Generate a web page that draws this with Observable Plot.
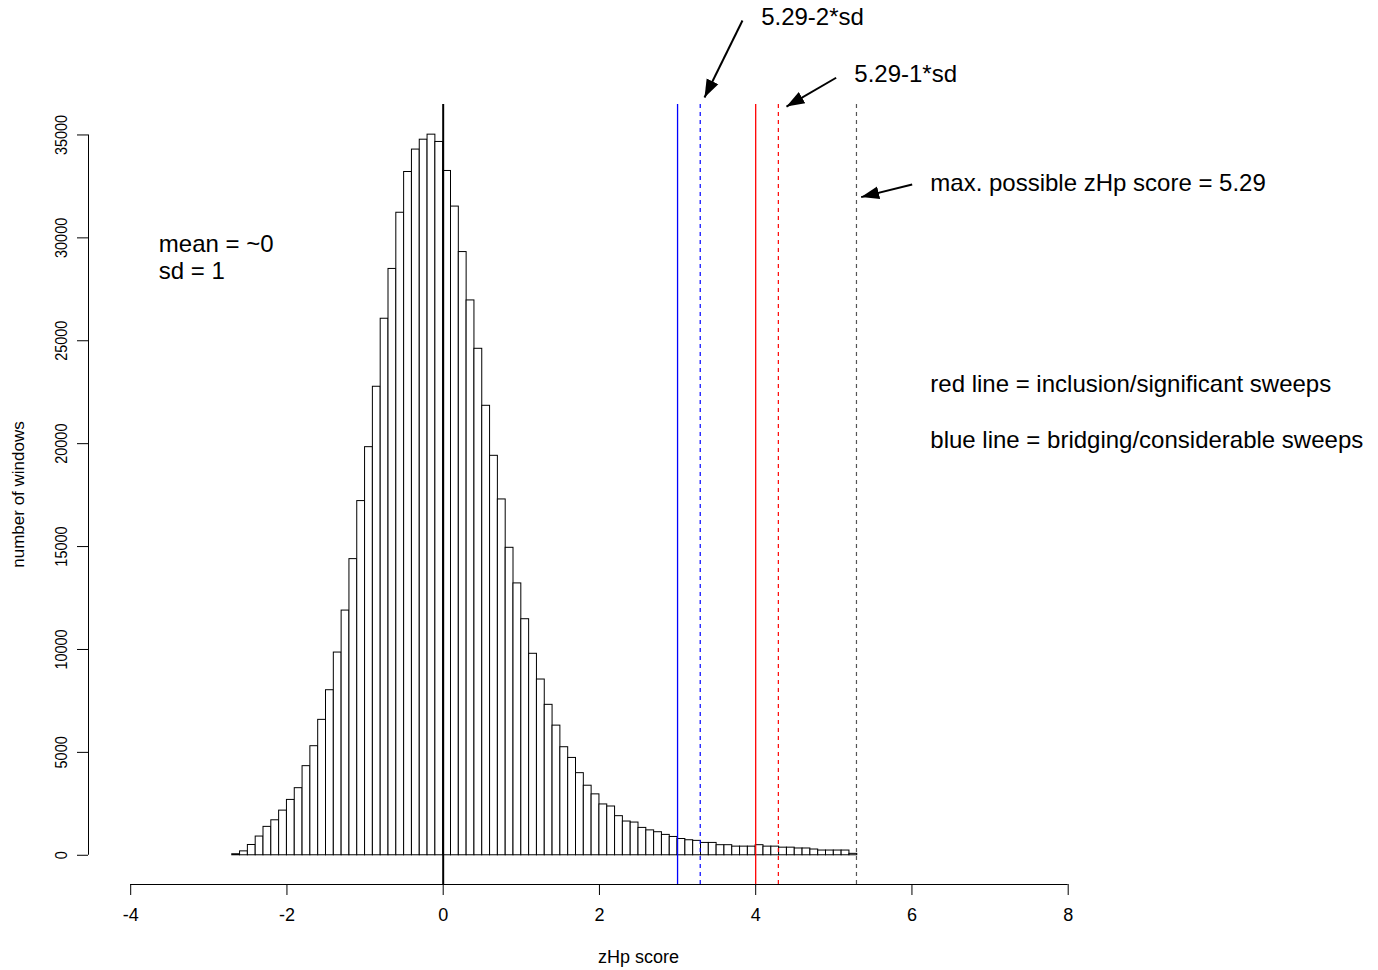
<!DOCTYPE html>
<html><head><meta charset="utf-8">
<script src="https://cdn.jsdelivr.net/npm/d3@7"></script>
<script src="https://cdn.jsdelivr.net/npm/@observablehq/plot@0.6"></script>
<style>body{margin:0;background:#fff;} svg{display:block}</style>
</head><body><div id="chart"></div>
<script>
// Histogram bins (left edges, bin width 0.1) and counts
const binStart = [-2.7,-2.6,-2.5,-2.4,-2.3,-2.2,-2.1,-2.0,-1.9,-1.8,-1.7,-1.6,-1.5,-1.4,-1.3,-1.2,-1.1,-1.0,-0.9,-0.8,
  -0.7,-0.6,-0.5,-0.4,-0.3,-0.2,-0.1,0.0,0.1,0.2,0.3,0.4,0.5,0.6,0.7,0.8,0.9,1.0,1.1,1.2,
  1.3,1.4,1.5,1.6,1.7,1.8,1.9,2.0,2.1,2.2,2.3,2.4,2.5,2.6,2.7,2.8,2.9,3.0,3.1,3.2,
  3.3,3.4,3.5,3.6,3.7,3.8,3.9,4.0,4.1,4.2,4.3,4.4,4.5,4.6,4.7,4.8,4.9,5.0,5.1,5.2];
const binWidth = 0.1;
const counts = [50,190,500,910,1380,1700,2170,2690,3260,4330,5300,6580,8020,9850,11890,14390,17210,19830,22765,26070,
  28490,31220,33200,34290,34770,35015,34660,33250,31520,29310,26960,24610,21840,19410,17290,14940,13210,11470,9790,8540,
  7310,6300,5250,4730,3990,3380,2960,2470,2370,1900,1640,1590,1330,1210,1120,990,890,790,730,700,
  600,600,490,490,420,420,420,490,420,420,370,370,330,330,280,230,230,230,230,70];

// Axis ticks
const xTicks = [-4,-2,0,2,4,6,8];
const yTicks = [0,5000,10000,15000,20000,25000,30000,35000];
const xDomain = [-4.54, 9.54];
const yDomain = [-1420, 36480];

// Reference lines: mean, blue solid, blue dashed (5.29-2*sd), red solid, red dashed (5.29-1*sd), max
const refLineValues = [0, 3, 3.29, 4, 4.29, 5.29];

// Annotations (data coordinates)
const annoText = ["5.29-2*sd", "5.29-1*sd", "max. possible zHp score = 5.29", "mean = ~0\nsd = 1",
  "red line = inclusion/significant sweeps", "blue line = bridging/considerable sweeps"];
const annoX = [4.07, 5.262, 6.235, -3.64, 6.235, 6.235];
const annoY = [40760, 38000, 32700, 29071, 22930, 20220];

// Arrows (data coordinates)
const arrowX1 = [3.831, 5.030, 6.003];
const arrowY1 = [40560, 37780, 32590];
const arrowX2 = [3.345, 4.394, 5.350];
const arrowY2 = [36820, 36380, 31980];

const bars = binStart.map((s, i) => ({x1: s, x2: s + binWidth, y: counts[i]}));
const annos = annoText.map((t, i) => ({t, x: annoX[i], y: annoY[i]}));
const arrows = arrowX1.map((x1, i) => ({x1, y1: arrowY1[i], x2: arrowX2[i], y2: arrowY2[i]}));

function filledArrow(color, context) {
  const doc = (context && context.document) || document;
  const ns = "http://www.w3.org/2000/svg";
  const m = doc.createElementNS(ns, "marker");
  m.setAttribute("viewBox", "0 -5 10 10");
  m.setAttribute("refX", "10");
  m.setAttribute("refY", "0");
  m.setAttribute("markerWidth", "18");
  m.setAttribute("markerHeight", "18");
  m.setAttribute("markerUnits", "userSpaceOnUse");
  m.setAttribute("orient", "auto");
  const p = doc.createElementNS(ns, "path");
  p.setAttribute("d", "M0,-3.6L10,0L0,3.6Z");
  p.setAttribute("fill", "black");
  p.setAttribute("stroke", "none");
  m.appendChild(p);
  return m;
}

const fmt = d => String(d);

const chart = Plot.plot({
  width: 1378, height: 970,
  marginLeft: 88, marginRight: 190, marginTop: 104, marginBottom: 86,
  style: {fontFamily: "'Liberation Sans', Arial, sans-serif", background: "white", overflow: "visible", color: "black"},
  x: {domain: xDomain},
  y: {domain: yDomain},
  marks: [
    Plot.rectY(bars, {x1: "x1", x2: "x2", y1: 0, y2: "y", fill: "white", stroke: "black", strokeWidth: 1, inset: 0}),
    Plot.ruleX([refLineValues[1]], {stroke: "#0000ff", strokeWidth: 1.3}),
    Plot.ruleX([refLineValues[2]], {stroke: "#0000ff", strokeWidth: 1.2, strokeDasharray: "4,4"}),
    Plot.ruleX([refLineValues[3]], {stroke: "#ff0000", strokeWidth: 1.3}),
    Plot.ruleX([refLineValues[4]], {stroke: "#ff0000", strokeWidth: 1.2, strokeDasharray: "4,4"}),
    Plot.ruleX([refLineValues[5]], {stroke: "#555555", strokeWidth: 1.2, strokeDasharray: "4,4"}),
    Plot.ruleX([refLineValues[0]], {stroke: "black", strokeWidth: 2}),
    // x axis
    Plot.ruleY([yDomain[0]], {x1: xTicks[0], x2: xTicks[xTicks.length - 1], stroke: "black"}),
    Plot.axisX({ticks: xTicks, tickSize: 11, tickPadding: 13, fontSize: 18, label: null, tickFormat: fmt}),
    Plot.text(["zHp score"], {text: d => d, frameAnchor: "bottom", dy: 78, fontSize: 18, textAnchor: "middle"}),
    // y axis
    Plot.ruleX([xDomain[0]], {y1: yTicks[0], y2: yTicks[yTicks.length - 1], stroke: "black"}),
    Plot.axisY({ticks: yTicks, tickSize: 11, tickRotate: -90, tickPadding: 11, fontSize: 17, label: null, tickFormat: fmt}),
    Plot.text(["number of windows"], {text: d => d, frameAnchor: "left", dx: -70, rotate: -90, fontSize: 17, textAnchor: "middle"}),
    // annotations
    Plot.text(annos, {x: "x", y: "y", text: "t", textAnchor: "start", fontSize: 24, lineHeight: 1.12, fill: "black"}),
    Plot.link(arrows, {x1: "x1", y1: "y1", x2: "x2", y2: "y2", stroke: "black", strokeWidth: 2, markerEnd: filledArrow})
  ]
});

d3.select(chart).selectAll('g[aria-label="y-axis tick label"] text').each(function() {
  const t = this.getAttribute("transform");
  if (t) this.setAttribute("transform", t + " scale(0.85,1)");
});

document.getElementById("chart").appendChild(chart);
</script>
</body></html>
